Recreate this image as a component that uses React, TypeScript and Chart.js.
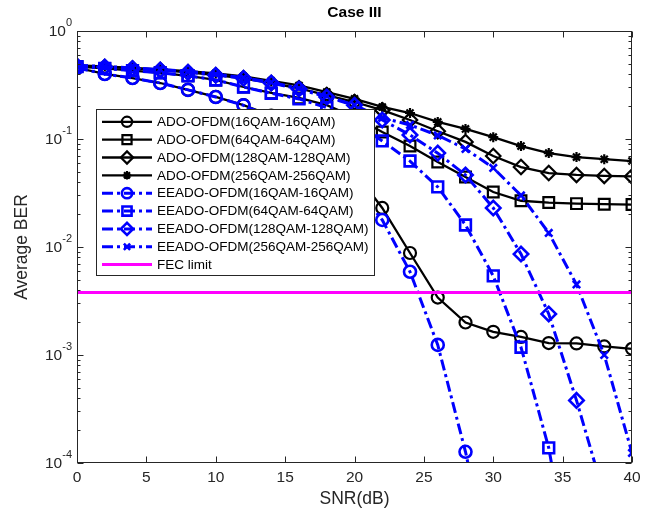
import React, { useEffect, useRef } from "react";
import { Chart, registerables } from "chart.js";

Chart.register(...registerables);

// SNR sweep in dB
const snr = [0, 2, 4, 6, 8, 10, 12, 14, 16, 18, 20, 22, 24, 26, 28, 30, 32, 34, 36, 38, 40];

// Average BER per scheme (null = below plotted range, not simulated)
const ado16 = [0.455, 0.4, 0.367, 0.33, 0.285, 0.245, 0.206, 0.165, 0.125, 0.087, 0.05, 0.023, 0.0088, 0.0034, 0.002, 0.00164, 0.00147, 0.00129, 0.00128, 0.0012, 0.00114];
const ado64 = [0.468, 0.45, 0.43, 0.41, 0.385, 0.352, 0.303, 0.267, 0.24, 0.206, 0.16, 0.116, 0.086, 0.0612, 0.0445, 0.0323, 0.0268, 0.0258, 0.0252, 0.0249, 0.0247];
const ado128 = [0.475, 0.465, 0.45, 0.435, 0.415, 0.39, 0.365, 0.33, 0.295, 0.255, 0.22, 0.185, 0.15, 0.118, 0.094, 0.0696, 0.055, 0.0484, 0.0465, 0.0455, 0.045];
const ado256 = [0.48, 0.47, 0.455, 0.44, 0.425, 0.405, 0.38, 0.345, 0.313, 0.272, 0.235, 0.198, 0.174, 0.144, 0.124, 0.104, 0.086, 0.074, 0.068, 0.065, 0.0625];
const eeado16 = [0.455, 0.4, 0.367, 0.33, 0.285, 0.245, 0.205, 0.16, 0.113, 0.07, 0.037, 0.0178, 0.0059, 0.00124, 0.000127, 0.000008, null, null, null, null, null];
const eeado64 = [0.468, 0.45, 0.43, 0.41, 0.385, 0.352, 0.303, 0.265, 0.235, 0.195, 0.145, 0.096, 0.0625, 0.036, 0.016, 0.0054, 0.00118, 0.000138, 0.000005, null, null];
const eeado128 = [0.475, 0.465, 0.45, 0.435, 0.415, 0.39, 0.365, 0.33, 0.29, 0.245, 0.205, 0.15, 0.109, 0.074, 0.0464, 0.023, 0.0086, 0.0024, 0.00038, 0.00005, null];
const eeado256 = [0.48, 0.47, 0.455, 0.44, 0.425, 0.4, 0.37, 0.335, 0.295, 0.25, 0.206, 0.157, 0.135, 0.108, 0.081, 0.054, 0.03, 0.0135, 0.0045, 0.001, 0.000124];
const fecLimit = 3.8e-3;

const seriesLabels = [
  "ADO-OFDM(16QAM-16QAM)",
  "ADO-OFDM(64QAM-64QAM)",
  "ADO-OFDM(128QAM-128QAM)",
  "ADO-OFDM(256QAM-256QAM)",
  "EEADO-OFDM(16QAM-16QAM)",
  "EEADO-OFDM(64QAM-64QAM)",
  "EEADO-OFDM(128QAM-128QAM)",
  "EEADO-OFDM(256QAM-256QAM)",
  "FEC limit",
];
const seriesValues = [ado16, ado64, ado128, ado256, eeado16, eeado64, eeado128, eeado256];
const markerStyles = ["circle", "rect", "rectRot", "star", "circle", "rect", "rectRot", "crossRot"];
const markerRadius = [6, 7.6, 7.2, 5, 6, 7.6, 7.2, 5.2];

const xTicks = [0, 5, 10, 15, 20, 25, 30, 35, 40];
const yExponents = [0, -1, -2, -3, -4];

const FONT = "'Liberation Sans', Arial, Helvetica, sans-serif";
const AXIS_COLOR = "#262626";
const BLUE = "#0000FF";
const DASH_DOT = [11, 4, 3, 4];

type Style = {
  color: string;
  width: number;
  dash: number[];
  marker: string | null;
  radius: number;
  markerWidth: number;
};

function drawMarker(ctx: CanvasRenderingContext2D, style: string, r: number, x: number, y: number) {
  ctx.beginPath();
  if (style === "circle") {
    ctx.arc(x, y, r, 0, Math.PI * 2);
  } else if (style === "rect") {
    const s = Math.SQRT1_2 * r;
    ctx.rect(x - s, y - s, 2 * s, 2 * s);
  } else if (style === "rectRot") {
    ctx.moveTo(x - r, y);
    ctx.lineTo(x, y - r);
    ctx.lineTo(x + r, y);
    ctx.lineTo(x, y + r);
    ctx.closePath();
  } else if (style === "crossRot" || style === "star") {
    const d = Math.SQRT1_2 * r;
    ctx.moveTo(x - d, y - d);
    ctx.lineTo(x + d, y + d);
    ctx.moveTo(x - d, y + d);
    ctx.lineTo(x + d, y - d);
    if (style === "star") {
      ctx.moveTo(x, y - r);
      ctx.lineTo(x, y + r);
      ctx.moveTo(x - r, y);
      ctx.lineTo(x + r, y);
    }
  }
  ctx.stroke();
}

const decorations = {
  id: "decorations",
  afterDatasetsDraw(chart: any) {
    const { ctx, chartArea: a, scales } = chart;
    const xs = scales.x;
    const ys = scales.y;
    ctx.save();
    ctx.strokeStyle = AXIS_COLOR;
    ctx.lineWidth = 1;
    ctx.setLineDash([]);
    const L = Math.round(a.left) + 0.5;
    const R = Math.round(a.right) - 0.5;
    const T = Math.round(a.top) + 0.5;
    const B = Math.round(a.bottom) - 0.5;
    ctx.strokeRect(L, T, R - L, B - T);

    ctx.beginPath();
    for (const v of xTicks) {
      const px = Math.round(xs.getPixelForValue(v)) + 0.5;
      ctx.moveTo(px, B);
      ctx.lineTo(px, B - 6);
      ctx.moveTo(px, T);
      ctx.lineTo(px, T + 6);
    }
    for (const e of yExponents) {
      const py = Math.round(ys.getPixelForValue(Math.pow(10, e))) + 0.5;
      ctx.moveTo(L, py);
      ctx.lineTo(L + 6, py);
      ctx.moveTo(R, py);
      ctx.lineTo(R - 6, py);
      if (e > -4) {
        for (let m = 2; m <= 9; m++) {
          const mp = Math.round(ys.getPixelForValue(m * Math.pow(10, e - 1))) + 0.5;
          ctx.moveTo(L, mp);
          ctx.lineTo(L + 3, mp);
          ctx.moveTo(R, mp);
          ctx.lineTo(R - 3, mp);
        }
      }
    }
    ctx.stroke();

    ctx.fillStyle = AXIS_COLOR;
    ctx.textBaseline = "middle";

    // SNR tick labels
    ctx.font = `15.5px ${FONT}`;
    ctx.textAlign = "center";
    for (const v of xTicks) {
      ctx.fillText(String(v), xs.getPixelForValue(v), a.bottom + 15);
    }

    // decade labels with superscript exponents
    for (const e of yExponents) {
      const py = ys.getPixelForValue(Math.pow(10, e));
      const exp = String(e);
      ctx.font = `11px ${FONT}`;
      const ew = ctx.measureText(exp).width;
      const right = a.left - 5;
      ctx.textAlign = "left";
      ctx.fillText(exp, right - ew, py - 8);
      ctx.font = `15.5px ${FONT}`;
      ctx.textAlign = "right";
      ctx.fillText("10", right - ew, py + 1);
    }
    ctx.restore();
  },
  afterDraw(chart: any) {
    const { ctx, chartArea: a } = chart;
    ctx.save();
    // legend box
    const lx = 96.5, ly = 109.5, lw = 278, lh = 166;
    ctx.fillStyle = "#FFFFFF";
    ctx.fillRect(lx, ly, lw, lh);
    ctx.strokeStyle = AXIS_COLOR;
    ctx.lineWidth = 1;
    ctx.setLineDash([]);
    ctx.strokeRect(lx, ly, lw, lh);
    const styles: Style[] = chart.data.datasets.map((d: any) => ({
      color: d.borderColor,
      width: d.borderWidth,
      dash: d.borderDash || [],
      marker: d.pointRadius > 0 ? d.pointStyle : null,
      radius: d.pointRadius,
      markerWidth: d.pointBorderWidth,
    }));
    ctx.font = `13.5px ${FONT}`;
    ctx.textBaseline = "middle";
    ctx.textAlign = "left";
    for (let i = 0; i < seriesLabels.length; i++) {
      const s = styles[i];
      const cy = 121.8 + i * 17.85;
      ctx.strokeStyle = s.color;
      ctx.lineWidth = s.width;
      ctx.setLineDash(s.dash);
      ctx.beginPath();
      ctx.moveTo(102, cy);
      ctx.lineTo(152, cy);
      ctx.stroke();
      ctx.setLineDash([]);
      if (s.marker) {
        ctx.lineWidth = s.markerWidth;
        drawMarker(ctx, s.marker, s.radius * 0.85, 127, cy);
      }
      ctx.fillStyle = "#000000";
      ctx.fillText(seriesLabels[i], 157, cy + 0.5);
    }

    // title and axis titles
    const cx = (a.left + a.right) / 2;
    ctx.fillStyle = "#000000";
    ctx.textAlign = "center";
    ctx.font = `bold 15.5px ${FONT}`;
    ctx.fillText("Case III", cx, 13);
    ctx.fillStyle = AXIS_COLOR;
    ctx.font = `17.5px ${FONT}`;
    ctx.fillText("SNR(dB)", cx, 499);
    ctx.translate(22, (a.top + a.bottom) / 2);
    ctx.rotate(-Math.PI / 2);
    ctx.fillText("Average BER", 0, 0);
    ctx.restore();
  },
};

export default function App() {
  const canvasRef = useRef<HTMLCanvasElement | null>(null);

  useEffect(() => {
    document.body.style.margin = "0";
    const canvas = canvasRef.current;
    if (!canvas) return;

    const n = seriesValues.length + 1;
    const datasets: any[] = seriesValues.map((vals, i) => {
      const isBlue = i >= 4;
      return {
        label: seriesLabels[i],
        data: snr
          .map((x, k) => ({ x, y: vals[k] }))
          .filter((p) => p.y !== null),
        borderColor: isBlue ? BLUE : "#000000",
        borderWidth: isBlue ? 3 : 2.3,
        borderDash: isBlue ? DASH_DOT : [],
        pointStyle: markerStyles[i],
        pointRadius: markerRadius[i],
        pointBorderWidth: isBlue ? 2.6 : 2.2,
        pointBorderColor: isBlue ? BLUE : "#000000",
        pointBackgroundColor: "rgba(0,0,0,0)",
        tension: 0,
        order: n - i,
      };
    });
    datasets.push({
      label: seriesLabels[8],
      data: [
        { x: snr[0], y: fecLimit },
        { x: snr[snr.length - 1], y: fecLimit },
      ],
      borderColor: "#FF00FF",
      borderWidth: 3,
      borderDash: [],
      pointRadius: 0,
      pointStyle: "circle",
      pointBorderWidth: 0,
      order: 0,
    });

    const chart = new Chart(canvas, {
      type: "line",
      data: { datasets },
      options: {
        animation: false,
        responsive: false,
        events: [],
        layout: { padding: { left: 0, right: 20, top: 31, bottom: 0 } },
        plugins: {
          legend: { display: false },
          title: { display: false },
          tooltip: { enabled: false },
        },
        scales: {
          x: {
            type: "linear",
            min: 0,
            max: 40,
            grid: { display: false },
            border: { display: false },
            ticks: { display: false, stepSize: 5 },
            afterFit: (scale: any) => {
              scale.height = 57;
            },
          },
          y: {
            type: "logarithmic",
            min: 1e-4,
            max: 1,
            grid: { display: false },
            border: { display: false },
            ticks: { display: false },
            afterFit: (scale: any) => {
              scale.width = 77;
            },
          },
        },
      },
      plugins: [decorations],
    });

    return () => chart.destroy();
  }, []);

  return (
    <div style={{ width: 652, height: 520, background: "#FFFFFF" }}>
      <canvas ref={canvasRef} width={652} height={520} style={{ display: "block" }} />
    </div>
  );
}
